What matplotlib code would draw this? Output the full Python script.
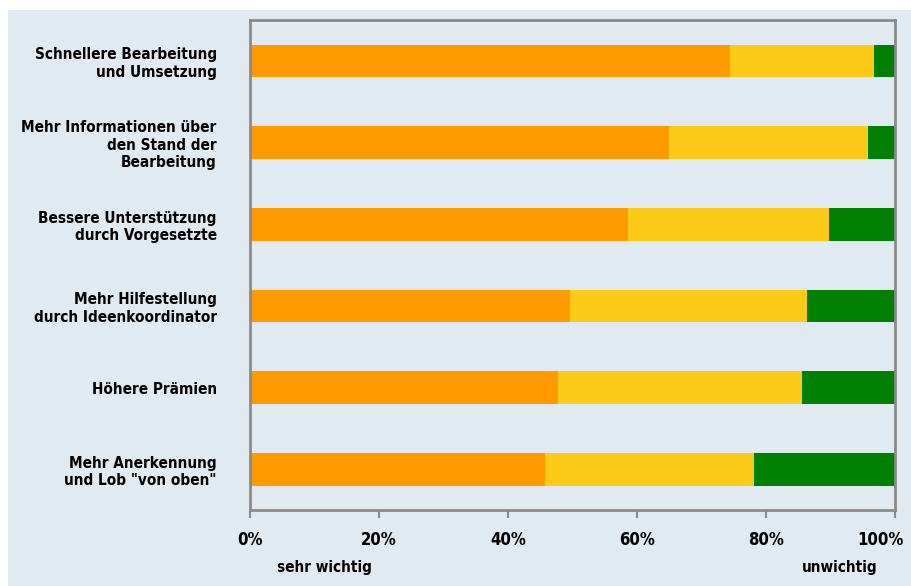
import matplotlib.pyplot as plt
from matplotlib.patches import Rectangle
from matplotlib.transforms import ScaledTranslation

# Categories (top to bottom) and shares in percent
categories = [
    'Schnellere Bearbeitung\nund Umsetzung',
    'Mehr Informationen über\nden Stand der\nBearbeitung',
    'Bessere Unterstützung\ndurch Vorgesetzte',
    'Mehr Hilfestellung\ndurch Ideenkoordinator',
    'Höhere Prämien',
    'Mehr Anerkennung\nund Lob "von oben"',
]
sehr_wichtig = [74.4, 65.0, 58.6, 49.6, 47.8, 45.7]
wichtig = [22.3, 30.8, 31.2, 36.8, 37.8, 32.4]
unwichtig = [3.3, 4.2, 10.2, 13.6, 14.4, 21.9]
ticks = [0, 20, 40, 60, 80, 100]
tick_labels = ['0%', '20%', '40%', '60%', '80%', '100%']

font = dict(family='DejaVu Sans', stretch='condensed', weight='bold')
panel = '#e1e9f1'
frame = '#8a8a8a'

fig = plt.figure(figsize=(9.12, 5.86), dpi=100)
fig.patch.set_facecolor('white')
fig.patches.append(Rectangle((8 / 912, 0), 1, 576 / 586, transform=fig.transFigure,
                             facecolor=panel, edgecolor='none', zorder=-10))

ax = fig.add_axes([250 / 912, 76 / 586, 645 / 912, 490 / 586])
ax.set_facecolor(panel)

y = list(range(len(categories)))
left2 = [a + b for a, b in zip(sehr_wichtig, wichtig)]
ax.barh(y, sehr_wichtig, height=0.4, color='#ff9900', linewidth=0)
ax.barh(y, wichtig, left=sehr_wichtig, height=0.4, color='#fdca17', linewidth=0)
ax.barh(y, unwichtig, left=left2, height=0.4, color='#008000', linewidth=0)

ax.set_ylim(len(categories) - 0.5, -0.5)
ax.set_xlim(0, 100)
ax.set_yticks(y)
ax.set_yticklabels(categories, ha='right', fontsize=11, linespacing=1.2, **font)
ax.tick_params(axis='y', length=0, pad=24)
ax.set_xticks(ticks)
labels = ax.set_xticklabels(tick_labels, fontsize=12, **font)
ax.tick_params(axis='x', length=6, width=1.5, color=frame, pad=9)
# last label sits a bit to the left so it stays inside the picture
labels[-1].set_transform(labels[-1].get_transform() +
                         ScaledTranslation(-0.14, 0, fig.dpi_scale_trans))

for side in ['left', 'right', 'top', 'bottom']:
    ax.spines[side].set_color(frame)
    ax.spines[side].set_linewidth(2)

ax.text(11.6, -0.118, 'sehr wichtig', transform=ax.get_xaxis_transform(),
        ha='center', va='center', fontsize=11, **font)
ax.text(91.5, -0.118, 'unwichtig', transform=ax.get_xaxis_transform(),
        ha='center', va='center', fontsize=11, **font)

fig.savefig('out.png', dpi=100, facecolor=fig.get_facecolor())
